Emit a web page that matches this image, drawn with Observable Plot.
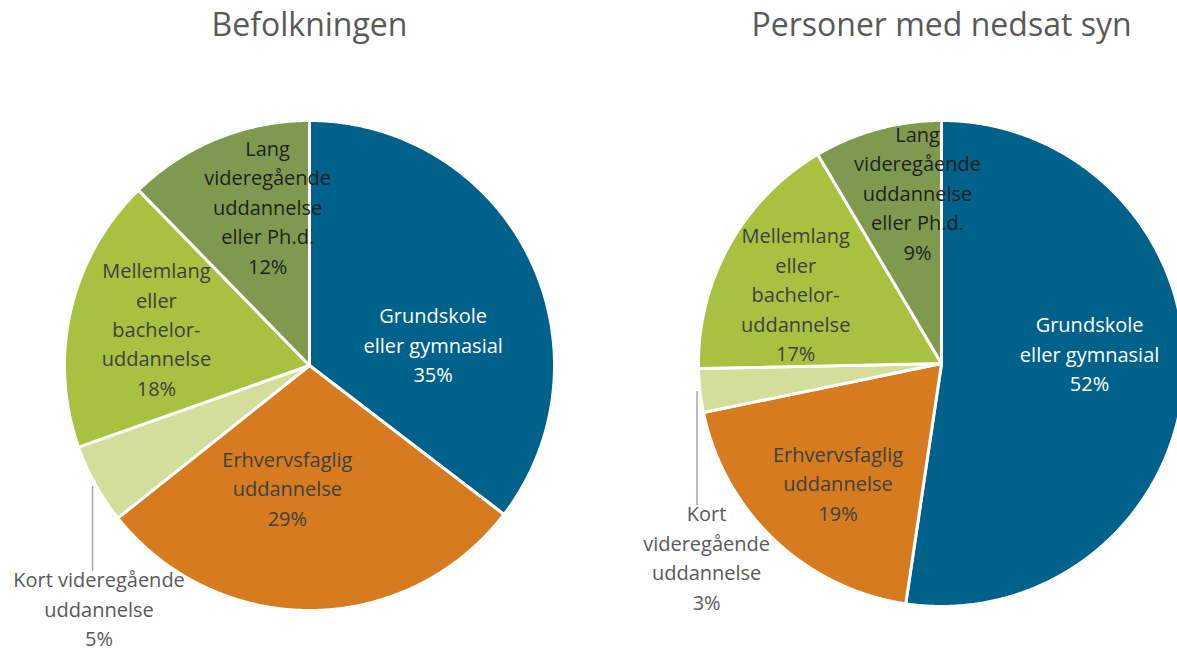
<!DOCTYPE html>
<html>
<head>
<meta charset="utf-8">
<script src="https://cdn.jsdelivr.net/npm/d3@7"></script>
<script src="https://cdn.jsdelivr.net/npm/@observablehq/plot@0.6"></script>
<style>
  html, body { margin: 0; padding: 0; background: #fff; overflow: hidden; }
  #chart svg { overflow: hidden; display: block; }
</style>
</head>
<body>
<div id="chart"></div>
<script>
// ---- Data ----
const titles = ["Befolkningen", "Personer med nedsat syn"];
const categories = [
  "Grundskole eller gymnasial",
  "Erhvervsfaglig uddannelse",
  "Kort videregående uddannelse",
  "Mellemlang eller bachelor-uddannelse",
  "Lang videregående uddannelse eller Ph.d."
];
const valuesBefolkning = [35.4, 28.9, 5.3, 18.1, 12.3];
const valuesNedsatSyn  = [52.3, 19.4, 2.9, 16.8, 8.5];
const labelsLeft = [
  "Grundskole\neller gymnasial",
  "Erhvervsfaglig\nuddannelse",
  "Kort videregående\nuddannelse",
  "Mellemlang\neller\nbachelor-\nuddannelse",
  "Lang\nvideregående\nuddannelse\neller Ph.d."
];
const labelsRight = [
  "Grundskole\neller gymnasial",
  "Erhvervsfaglig\nuddannelse",
  "Kort\nvideregående\nuddannelse",
  "Mellemlang\neller\nbachelor-\nuddannelse",
  "Lang\nvideregående\nuddannelse\neller Ph.d."
];

// ---- Styles / layout ----
const colors = ["#00618a", "#d67b1f", "#d2de99", "#a8c141", "#7f9a4e"];
const textColors = ["#ffffff", "#404040", "#595959", "#404040", "#1f1f1f"];
const W = 1177, H = 650;
const FONT = "'Open Sans', Lato, sans-serif";
const pies = [
  {cx: 309, cy: 365, r: 245, values: valuesBefolkning, labels: labelsLeft, title: titles[0],
   labelPolar: [[81.7, 0.51], [190, 0.52], [220.6, 1.32], [282.5, 0.64], [345, 0.66]]},
  {cx: 941, cy: 363, r: 243, values: valuesNedsatSyn, labels: labelsRight, title: titles[1],
   labelPolar: [[87.3, 0.61], [220.2, 0.66], [230.1, 1.26], [294.6, 0.66], [351.9, 0.70]]}
];
const outsideIdx = 2; // "Kort videregående" label sits outside with a leader
const lineH = 29.5, fontSize = 20;

// ---- Build geometry from data ----
const slicePts = [], labelRows = [], leaderRows = [], titleRows = [];
pies.forEach((p, pi) => {
  const arcs = d3.pie().sort(null).value(d => d)(p.values);
  arcs.forEach((a, i) => {
    const key = pi + "-" + i;
    const steps = Math.max(2, Math.ceil((a.endAngle - a.startAngle) / 0.005));
    slicePts.push({key, color: colors[i], x: p.cx, y: p.cy});
    for (let s = 0; s <= steps; s++) {
      const t = a.startAngle + (a.endAngle - a.startAngle) * s / steps;
      slicePts.push({key, color: colors[i], x: p.cx + p.r * Math.sin(t), y: p.cy - p.r * Math.cos(t)});
    }
    slicePts.push({key, color: colors[i], x: p.cx, y: p.cy});

    const [deg, frac] = p.labelPolar[i];
    const ang = deg * Math.PI / 180;
    const lx = p.cx + frac * p.r * Math.sin(ang);
    const ly = p.cy - frac * p.r * Math.cos(ang);
    const text = p.labels[i] + "\n" + Math.round(p.values[i]) + "%";
    labelRows.push({x: lx, y: ly, text, color: textColors[i]});

    if (i === outsideIdx) {
      const mid = (a.startAngle + a.endAngle) / 2;
      const nLines = text.split("\n").length;
      const x0 = p.cx + (p.r + 3) * Math.sin(mid);
      const y0 = p.cy - (p.r + 3) * Math.cos(mid);
      leaderRows.push({x1: x0, y1: y0, x2: x0, y2: ly - nLines * lineH / 2 + 4});
    }
  });
  titleRows.push({x: p.cx, y: 25, text: p.title});
});

const chart = Plot.plot({
  width: W, height: H,
  margin: 0,
  x: {domain: [0, W], range: [0, W], axis: null},
  y: {domain: [0, H], range: [0, H], axis: null},
  color: {type: "identity"},
  marks: [
    Plot.line(slicePts, {x: "x", y: "y", z: "key", fill: "color", stroke: "white", strokeWidth: 3, strokeLinejoin: "round"}),
    Plot.link(leaderRows, {x1: "x1", y1: "y1", x2: "x2", y2: "y2", stroke: "#a6a6a6", strokeWidth: 1.5}),
    Plot.text(labelRows, {x: "x", y: "y", text: "text", fill: "color", fontSize, lineHeight: lineH / fontSize,
      lineAnchor: "middle", textAnchor: "middle", fontFamily: FONT, dy: -4}),
    Plot.text(titleRows, {x: "x", y: "y", text: "text", fill: "#595959", fontSize: 32, lineAnchor: "middle",
      textAnchor: "middle", fontFamily: FONT})
  ]
});
document.getElementById("chart").appendChild(chart);
</script>
</body>
</html>
